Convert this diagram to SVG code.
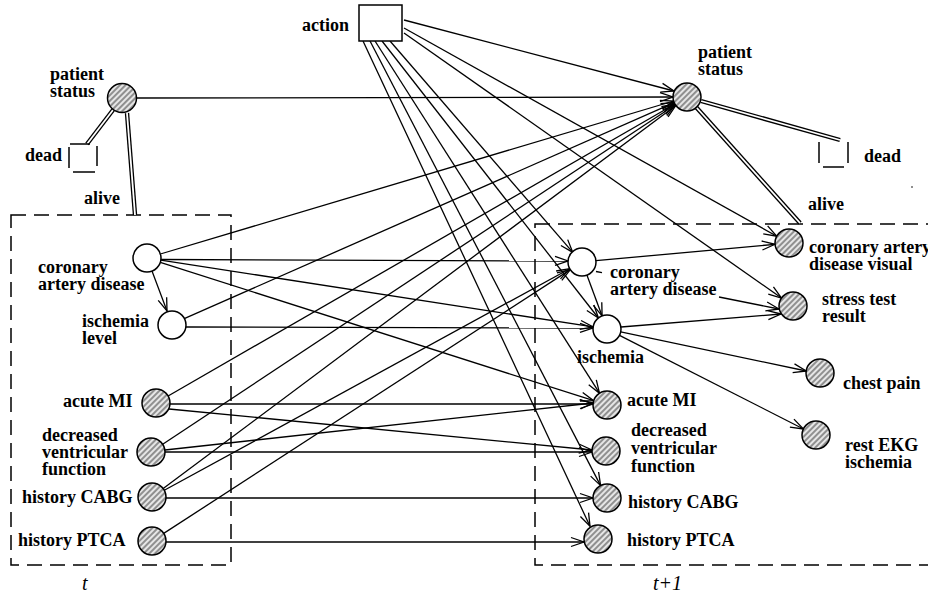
<svg xmlns="http://www.w3.org/2000/svg" width="928" height="596" viewBox="0 0 928 596">
<style>
text{font-family:"Liberation Serif","Times New Roman",serif;font-weight:bold;font-size:18px;fill:#000}
.it{font-weight:normal;font-style:italic;font-size:20px}
.c{stroke:#000;stroke-width:1.3;fill:none}
.a{stroke:#000;stroke-width:1.3;fill:none;marker-end:url(#ah)}
.n{fill:#fff;stroke:#000;stroke-width:1.5}
.h{fill:url(#hatch);stroke:#000;stroke-width:1.5}
.dl{stroke:#000;stroke-width:4.4;fill:none}
.dw{stroke:#fff;stroke-width:1.8;fill:none}
.box{fill:none;stroke:#000;stroke-width:1.5;stroke-dasharray:15 8}
.db{stroke:#000;stroke-width:1.5;fill:none}
</style>
<defs>
<pattern id="hatch" width="4" height="4" patternUnits="userSpaceOnUse" patternTransform="rotate(45)">
<rect width="4" height="4" fill="#e6e6e6"/>
<line x1="1" y1="0" x2="1" y2="4" stroke="#555" stroke-width="1.2"/>
</pattern>
<marker id="ah" markerWidth="16" markerHeight="12" refX="14" refY="6" orient="auto" markerUnits="userSpaceOnUse">
<path d="M1,1.5 L14,6 L1,10.5" fill="none" stroke="#000" stroke-width="1.3"/>
</marker>
</defs>
<rect width="928" height="596" fill="#fff"/>

<g id="slices">
<rect class="box" x="11" y="215" width="220" height="350"/>
<rect class="box" x="535" y="224" width="420" height="341"/>
<text class="it" x="82" y="590">t</text>
<text class="it" x="653" y="590">t+1</text>
</g>

<g id="connectors">
<line class="dl" x1="113" y1="110" x2="87" y2="144"/>
<line class="dw" x1="113" y1="110" x2="87" y2="144"/>
<line class="dl" x1="127" y1="113" x2="135" y2="215"/>
<line class="dw" x1="127" y1="113" x2="135" y2="215"/>
<line class="dl" x1="701" y1="101" x2="840" y2="140"/>
<line class="dw" x1="701" y1="101" x2="840" y2="140"/>
<line class="dl" x1="696" y1="107" x2="800" y2="223"/>
<line class="dw" x1="696" y1="107" x2="800" y2="223"/>

<line class="a" x1="136.5" y1="98" x2="673" y2="97"/>
<line class="a" x1="160.4" y1="254" x2="673.6" y2="101"/>
<line class="a" x1="184.8" y1="318.4" x2="674.2" y2="102.6"/>
<line class="a" x1="168.1" y1="396" x2="674.9" y2="104"/>
<line class="a" x1="162.7" y1="444.3" x2="675.3" y2="104.7"/>
<line class="a" x1="163.2" y1="488.6" x2="675.8" y2="105.4"/>

<line class="a" x1="404" y1="20" x2="674" y2="91"/>
<line class="a" x1="404" y1="28" x2="776.8" y2="236.2"/>
<line class="a" x1="404" y1="33" x2="781.5" y2="298"/>
<line class="a" x1="390" y1="41" x2="572.8" y2="252.4"/>
<line class="a" x1="382" y1="41" x2="598.4" y2="318"/>
<line class="a" x1="375" y1="41" x2="599.5" y2="393.2"/>
<line class="a" x1="370" y1="41" x2="600.6" y2="485.6"/>
<line class="a" x1="363" y1="41" x2="590" y2="526.3"/>

<line class="a" x1="161" y1="259.5" x2="568" y2="261"/>
<line class="a" x1="160.8" y1="260.1" x2="593.2" y2="326.9"/>
<line class="a" x1="160.3" y1="262.3" x2="593.7" y2="400.7"/>
<line class="a" x1="186" y1="327" x2="593" y2="328"/>
<line class="a" x1="170" y1="404" x2="593" y2="404"/>
<line class="a" x1="169" y1="409" x2="592" y2="450"/>
<line class="a" x1="165" y1="450" x2="593" y2="403"/>
<line class="a" x1="165" y1="452" x2="592" y2="452"/>
<line class="a" x1="164.3" y1="490.3" x2="569.7" y2="268.7"/>
<line class="a" x1="163.7" y1="533.4" x2="570.3" y2="269.6"/>
<line class="a" x1="166" y1="498" x2="593" y2="498"/>
<line class="a" x1="166" y1="542" x2="584" y2="542"/>

<line class="a" x1="152" y1="271" x2="167" y2="311"/>

<line class="a" x1="586.9" y1="275.1" x2="602.1" y2="315.9"/>
<line class="a" x1="596" y1="260.7" x2="775" y2="244.3"/>
<line class="c" x1="596" y1="271.5" x2="602" y2="272.7"/>
<line class="a" x1="719" y1="297" x2="779" y2="309"/>
<line class="a" x1="621" y1="327" x2="781" y2="314"/>
<line class="a" x1="620.7" y1="331.8" x2="806.3" y2="371"/>
<line class="a" x1="619.5" y1="335.3" x2="803.5" y2="429"/>
</g>

<g id="action">
<rect x="359" y="5" width="43" height="36" fill="#fff" stroke="#000" stroke-width="1.5"/>
<text x="302" y="31">action</text>
</g>

<g id="patient-status-t">
<circle class="h" cx="122" cy="98" r="14.5"/>
<text x="50" y="80">patient<tspan x="50" y="97">status</tspan></text>
</g>
<g id="dead-t">
<line class="db" x1="70" y1="144" x2="90" y2="144"/>
<line class="db" x1="69" y1="147" x2="69" y2="168"/>
<line class="db" x1="97" y1="146" x2="97" y2="166"/>
<line class="db" x1="73" y1="172" x2="95" y2="172"/>
<text x="25" y="161">dead</text>
</g>
<g id="alive-t"><text x="84" y="204">alive</text></g>

<g id="cad-t">
<circle class="n" cx="147" cy="258" r="14"/>
<text x="38" y="273">coronary<tspan x="38" y="290">artery disease</tspan></text>
</g>
<g id="ischemia-level-t">
<circle class="n" cx="172" cy="325" r="14"/>
<text x="82" y="327">ischemia<tspan x="82" y="344">level</tspan></text>
</g>
<g id="acute-mi-t">
<circle class="h" cx="156" cy="403" r="14"/>
<text x="63" y="407">acute MI</text>
</g>
<g id="dvf-t">
<circle class="h" cx="151" cy="452" r="14"/>
<text x="42" y="441">decreased<tspan x="42" y="458">ventricular</tspan><tspan x="42" y="475">function</tspan></text>
</g>
<g id="cabg-t">
<circle class="h" cx="152" cy="497" r="14"/>
<text x="22" y="503">history CABG</text>
</g>
<g id="ptca-t">
<circle class="h" cx="152" cy="541" r="14"/>
<text x="18" y="546">history PTCA</text>
</g>

<g id="patient-status-t1">
<circle class="h" cx="687" cy="97" r="14"/>
<text x="698" y="58">patient<tspan x="698" y="75">status</tspan></text>
</g>
<g id="dead-t1">
<line class="db" x1="819" y1="142" x2="819" y2="163"/>
<line class="db" x1="848" y1="142" x2="848" y2="163"/>
<line class="db" x1="823" y1="167" x2="844" y2="167"/>
<text x="864" y="162">dead</text>
<circle cx="912" cy="187" r="0.8" fill="#000"/>
</g>
<g id="alive-t1"><text x="808" y="210">alive</text></g>

<g id="cad-t1">
<circle class="n" cx="582" cy="262" r="14"/>
<text x="610" y="278">coronary<tspan x="610" y="295">artery disease</tspan></text>
</g>
<g id="ischemia-t1">
<circle class="n" cx="607" cy="329" r="14"/>
<text x="577" y="363">ischemia</text>
</g>
<g id="acute-mi-t1">
<circle class="h" cx="607" cy="405" r="14"/>
<text x="627" y="406">acute MI</text>
</g>
<g id="dvf-t1">
<circle class="h" cx="606" cy="451" r="14"/>
<text x="631" y="436">decreased<tspan x="631" y="454">ventricular</tspan><tspan x="631" y="472">function</tspan></text>
</g>
<g id="cabg-t1">
<circle class="h" cx="607" cy="498" r="14"/>
<text x="628" y="508">history CABG</text>
</g>
<g id="ptca-t1">
<circle class="h" cx="598" cy="539" r="14"/>
<text x="627" y="546">history PTCA</text>
</g>
<g id="cad-visual">
<circle class="h" cx="789" cy="243" r="14"/>
<text x="809" y="253">coronary artery<tspan x="809" y="270">disease visual</tspan></text>
</g>
<g id="stress-test">
<circle class="h" cx="793" cy="306" r="14"/>
<text x="822" y="305">stress test<tspan x="822" y="322">result</tspan></text>
</g>
<g id="chest-pain">
<circle class="h" cx="820" cy="373" r="14"/>
<text x="843" y="389">chest pain</text>
</g>
<g id="rest-ekg">
<circle class="h" cx="816" cy="435" r="14"/>
<text x="845" y="451">rest EKG<tspan x="845" y="468">ischemia</tspan></text>
</g>
</svg>
